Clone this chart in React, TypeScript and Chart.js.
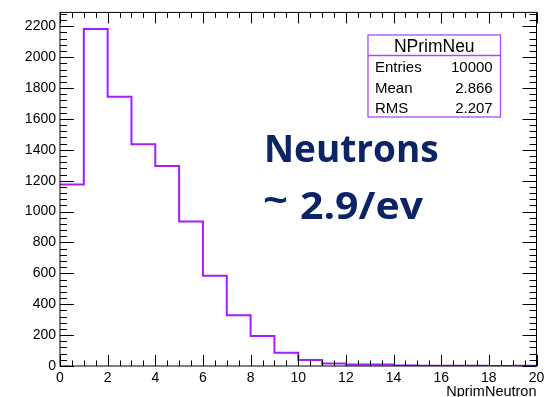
import React, { useEffect, useRef } from 'react';
import { Chart, registerables } from 'chart.js';

Chart.register(...registerables);

// ---- data ----
const binLowEdges = [0, 1, 2, 3, 4, 5, 6, 7, 8, 9, 10, 11, 12, 13, 14, 15, 16, 17, 18, 19];
const binCounts = [1175, 2182, 1743, 1436, 1295, 936, 584, 328, 195, 86, 39, 17, 10, 9, 3, 2, 1, 1, 0, 1];
const xMin = 0;
const xMax = 20;
const yMin = 0;
const yMax = 2290;
const xTickValues = [0, 2, 4, 6, 8, 10, 12, 14, 16, 18, 20];
const yTickValues = [0, 200, 400, 600, 800, 1000, 1200, 1400, 1600, 1800, 2000, 2200];
const yMajorStep = 200;
const yMinorStep = 40;
const xMajorStep = 2;
const xMinorStep = 0.5;
const xAxisTitle = 'NprimNeutron';
const statsTitle = 'NPrimNeu';
const statsLabels = ['Entries', 'Mean', 'RMS'];
const statsValues = ['10000', '2.866', '2.207'];
const noteTitle = 'Neutrons';
const noteTilde = '~';
const noteValue = '2.9/ev';

const HIST_COLOR = '#a41cff';
const NOTE_COLOR = '#0b2466';
const FONT = '"Liberation Sans", Arial, Helvetica, sans-serif';

const rootStylePlugin = {
  id: 'rootStyle',
  afterDraw(chart: any) {
    const { ctx, chartArea } = chart;
    const xs = chart.scales.x;
    const ys = chart.scales.y;
    const L = chartArea.left, R = chartArea.right, T = chartArea.top, B = chartArea.bottom;
    ctx.save();
    ctx.strokeStyle = '#000';
    ctx.lineWidth = 1;
    ctx.strokeRect(L, T, R - L, B - T);
    const yMajLen = 14, yMinLen = 7;
    for (let v = yMin; v <= yMax + 1e-9; v += yMinorStep) {
      const p = Math.round(ys.getPixelForValue(v)) + 0.5;
      const isMaj = Math.abs(v / yMajorStep - Math.round(v / yMajorStep)) < 1e-6;
      const len = isMaj ? yMajLen : yMinLen;
      ctx.beginPath();
      ctx.moveTo(L, p); ctx.lineTo(L + len, p);
      ctx.moveTo(R, p); ctx.lineTo(R - len, p);
      ctx.stroke();
    }
    const xMajLen = 11, xMinLen = 5.5;
    for (let v = xMin; v <= xMax + 1e-9; v += xMinorStep) {
      const p = Math.round(xs.getPixelForValue(v)) + 0.5;
      const isMaj = Math.abs(v / xMajorStep - Math.round(v / xMajorStep)) < 1e-6;
      const len = isMaj ? xMajLen : xMinLen;
      ctx.beginPath();
      ctx.moveTo(p, B); ctx.lineTo(p, B - len);
      ctx.moveTo(p, T); ctx.lineTo(p, T + len);
      ctx.stroke();
    }
    ctx.fillStyle = '#000';
    ctx.font = `14.5px ${FONT}`;
    ctx.textAlign = 'right';
    ctx.textBaseline = 'alphabetic';
    ctx.fillText(xAxisTitle, R, 396);

    const bx = 368, by = 35, bw = 132.5, bh = 82;
    ctx.fillStyle = '#fff';
    ctx.fillRect(bx, by, bw, bh);
    ctx.strokeStyle = '#a64cf2';
    ctx.lineWidth = 1.3;
    ctx.strokeRect(bx, by, bw, bh);
    ctx.beginPath();
    ctx.moveTo(bx, 55.5); ctx.lineTo(bx + bw, 55.5);
    ctx.stroke();
    ctx.fillStyle = '#000';
    ctx.font = `17.5px ${FONT}`;
    ctx.textAlign = 'center';
    ctx.fillText(statsTitle, bx + bw / 2, 52.3);
    ctx.font = `15px ${FONT}`;
    const rowY = [72.3, 92.7, 112.7];
    statsLabels.forEach((lab, i) => {
      ctx.textAlign = 'left';
      ctx.fillText(lab, 375, rowY[i]);
      ctx.textAlign = 'right';
      ctx.fillText(statsValues[i], 492.7, rowY[i]);
    });

    // annotation
    ctx.fillStyle = NOTE_COLOR;
    ctx.font = `bold 37px "Open Sans", Lato, sans-serif`;
    ctx.textAlign = 'left';
    ctx.fillText(noteTitle, 264, 162);
    // tilde, stretched to match the wide tilde of the original
    const tw = ctx.measureText(noteTilde).width;
    ctx.save();
    ctx.translate(263, 213);
    ctx.scale(25 / tw, 1);
    ctx.fillText(noteTilde, 0, 0);
    ctx.restore();
    const vw = ctx.measureText(noteValue).width;
    ctx.save();
    ctx.translate(300, 218.5);
    ctx.scale(123 / vw, 1);
    ctx.fillText(noteValue, 0, 0);
    ctx.restore();
    ctx.restore();
  },
};

export default function App() {
  const ref = useRef<HTMLCanvasElement | null>(null);
  useEffect(() => {
    if (!ref.current) return;
    const pts = binLowEdges.map((x, i) => ({ x, y: binCounts[i] }));
    pts.push({ x: xMax, y: binCounts[binCounts.length - 1] });
    const chart = new Chart(ref.current, {
      type: 'line',
      data: {
        datasets: [
          {
            data: pts,
            stepped: 'before',
            borderColor: HIST_COLOR,
            borderWidth: 2,
            pointRadius: 0,
            fill: false,
          },
        ],
      },
      options: {
        animation: false,
        responsive: true,
        maintainAspectRatio: false,
        layout: { padding: { top: 10.5, right: 15.5, left: 0, bottom: 0 } },
        plugins: { legend: { display: false }, tooltip: { enabled: false } },
        scales: {
          x: {
            type: 'linear',
            min: xMin,
            max: xMax,
            grid: { display: false, drawTicks: false, tickLength: 0 },
            border: { display: false },
            afterFit: (s: any) => { s.height = 31; },
            afterBuildTicks: (s: any) => {
              s.ticks = xTickValues.map((value) => ({ value }));
            },
            ticks: {
              color: '#000',
              font: { family: FONT, size: 14 },
              padding: 4,
              maxRotation: 0,
              autoSkip: false,
              callback: (v: any) => String(v),
            },
          },
          y: {
            type: 'linear',
            min: yMin,
            max: yMax,
            grid: { display: false, drawTicks: false, tickLength: 0 },
            border: { display: false },
            afterFit: (s: any) => { s.width = 60; },
            afterBuildTicks: (s: any) => {
              s.ticks = yTickValues.map((value) => ({ value }));
            },
            ticks: {
              color: '#000',
              font: { family: FONT, size: 14 },
              padding: 4,
              autoSkip: false,
              callback: (v: any) => String(v),
            },
          },
        },
      },
      plugins: [rootStylePlugin],
    });
    return () => chart.destroy();
  }, []);
  return (
    <div style={{ position: 'fixed', left: 0, top: 0, width: 552, height: 397, background: '#fff' }}>
      <canvas ref={ref} />
    </div>
  );
}
